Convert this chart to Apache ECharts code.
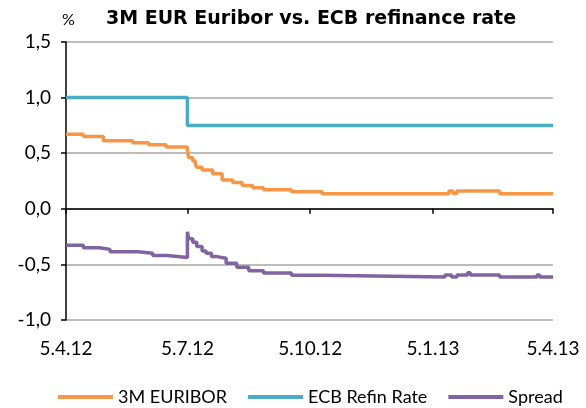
<!DOCTYPE html>
<html>
<head>
<meta charset="utf-8">
<script src="https://cdn.jsdelivr.net/npm/echarts@6/dist/echarts.min.js"></script>
<style>
html, body { margin: 0; padding: 0; background: #fff; }
#chart { width: 586px; height: 408px; }
</style>
</head>
<body>
<div id="chart"></div>
<script>
// values (step points, value holds until next date)
var euriborDates = ['2012-04-05', '2012-04-18', '2012-05-03', '2012-05-25', '2012-06-06', '2012-06-19',
    '2012-07-05', '2012-07-06', '2012-07-09', '2012-07-11', '2012-07-12', '2012-07-16', '2012-07-24',
    '2012-07-31', '2012-08-08', '2012-08-15', '2012-08-23', '2012-08-31', '2012-09-21', '2012-10-14',
    '2013-01-17', '2013-01-20', '2013-01-23', '2013-02-24', '2013-04-05'];
var euriborValues = [0.67, 0.65, 0.613, 0.595, 0.577, 0.556,
    0.52, 0.46, 0.43, 0.40, 0.374, 0.35, 0.315,
    0.26, 0.237, 0.21, 0.19, 0.172, 0.154, 0.135,
    0.16, 0.137, 0.16, 0.135, 0.135];

var refiDates = ['2012-04-05', '2012-07-05', '2013-04-05'];
var refiValues = [1.0, 0.75, 0.75];

var spreadDates = ['2012-04-05', '2012-04-18', '2012-04-30', '2012-05-08', '2012-05-29', '2012-06-09',
    '2012-06-20', '2012-07-05', '2012-07-06', '2012-07-09', '2012-07-12', '2012-07-16', '2012-07-19',
    '2012-07-23', '2012-07-27', '2012-08-03', '2012-08-11', '2012-08-20', '2012-08-31', '2012-09-21',
    '2012-10-14', '2013-01-14', '2013-01-19', '2013-01-23', '2013-01-31', '2013-02-02', '2013-02-24',
    '2013-03-24', '2013-03-26', '2013-04-05'];
var spreadValues = [-0.327, -0.35, -0.365, -0.386, -0.40, -0.42,
    -0.437, -0.207, -0.27, -0.30, -0.34, -0.38, -0.40,
    -0.43, -0.445, -0.49, -0.526, -0.556, -0.577, -0.597,
    -0.613, -0.595, -0.613, -0.595, -0.574, -0.595, -0.613,
    -0.595, -0.613, -0.613];

var tickDates = ['2012-04-05', '2012-07-05', '2012-10-05', '2013-01-05', '2013-04-05'];

function ts(d) {
    var p = d.split('-');
    return Date.UTC(+p[0], +p[1] - 1, +p[2]);
}
function pairs(dates, values) {
    return dates.map(function(d, i) { return [ts(d), values[i]]; });
}
function fmtDate(v) {
    var d = new Date(v);
    return d.getUTCDate() + '.' + (d.getUTCMonth() + 1) + '.' + String(d.getUTCFullYear()).slice(2);
}

var fontName = 'Lato';
var tickVals = tickDates.map(ts);
var xMin = ts('2012-04-05');
var xMax = ts('2013-04-05');

var chart = echarts.init(document.getElementById('chart'));
var option = {
    animation: false,
    textStyle: { fontFamily: fontName },
    grid: { left: 66, right: 33, top: 42, bottom: 88, containLabel: false },
    graphic: [
        { type: 'text', left: 62, top: 12, style: { text: '%', fontFamily: fontName, fontSize: 16, fill: '#000' } },
        { type: 'text', x: 311, y: 19, style: { text: '3M EUR Euribor vs. ECB refinance rate', fontFamily: 'DejaVu Sans',
            fontSize: 19, fontWeight: 'bold', fill: '#000', align: 'center', verticalAlign: 'middle' } }
    ],
    legend: {
        left: 53,
        top: 383,
        itemWidth: 55,
        itemHeight: 4,
        itemGap: 21,
        icon: 'rect',
        textStyle: { fontFamily: fontName, fontSize: 18, color: '#000' },
        data: ['3M EURIBOR', 'ECB Refin Rate', 'Spread']
    },
    xAxis: [{
        type: 'value',
        min: xMin,
        max: xMax,
        axisLine: { onZero: true, lineStyle: { color: '#000', width: 1.5 } },
        axisTick: { show: true, customValues: tickVals, length: 5, lineStyle: { color: '#000', width: 1.5 } },
        axisLabel: { show: false },
        splitLine: { show: false }
    }, {
        type: 'value',
        position: 'bottom',
        min: xMin,
        max: xMax,
        axisLine: { show: false, onZero: false },
        axisTick: { show: false },
        axisLabel: {
            customValues: tickVals,
            margin: 19,
            fontFamily: fontName,
            fontSize: 19,
            color: '#000',
            formatter: fmtDate
        },
        splitLine: { show: false }
    }],
    yAxis: {
        type: 'value',
        min: -1,
        max: 1.5,
        interval: 0.5,
        axisLine: { show: true, lineStyle: { color: '#000', width: 1.5 } },
        axisTick: { show: true, length: 5, lineStyle: { color: '#000', width: 1.5 } },
        axisLabel: {
            margin: 15,
            fontFamily: fontName,
            fontSize: 19,
            color: '#000',
            formatter: function(v) { return v.toFixed(1).replace('.', ','); }
        },
        splitLine: { show: true, lineStyle: { color: '#A6A6A6', width: 1.5 } }
    },
    series: [{
        name: '3M EURIBOR',
        type: 'line',
        step: 'end',
        symbol: 'none',
        color: '#F79646',
        lineStyle: { width: 3.5 },
        data: pairs(euriborDates, euriborValues)
    }, {
        name: 'ECB Refin Rate',
        type: 'line',
        step: 'end',
        symbol: 'none',
        color: '#4BACC6',
        lineStyle: { width: 3.5 },
        data: pairs(refiDates, refiValues)
    }, {
        name: 'Spread',
        type: 'line',
        step: 'end',
        symbol: 'none',
        color: '#8064A2',
        lineStyle: { width: 3.5 },
        data: pairs(spreadDates, spreadValues)
    }]
};
chart.setOption(option);
</script>
</body>
</html>
